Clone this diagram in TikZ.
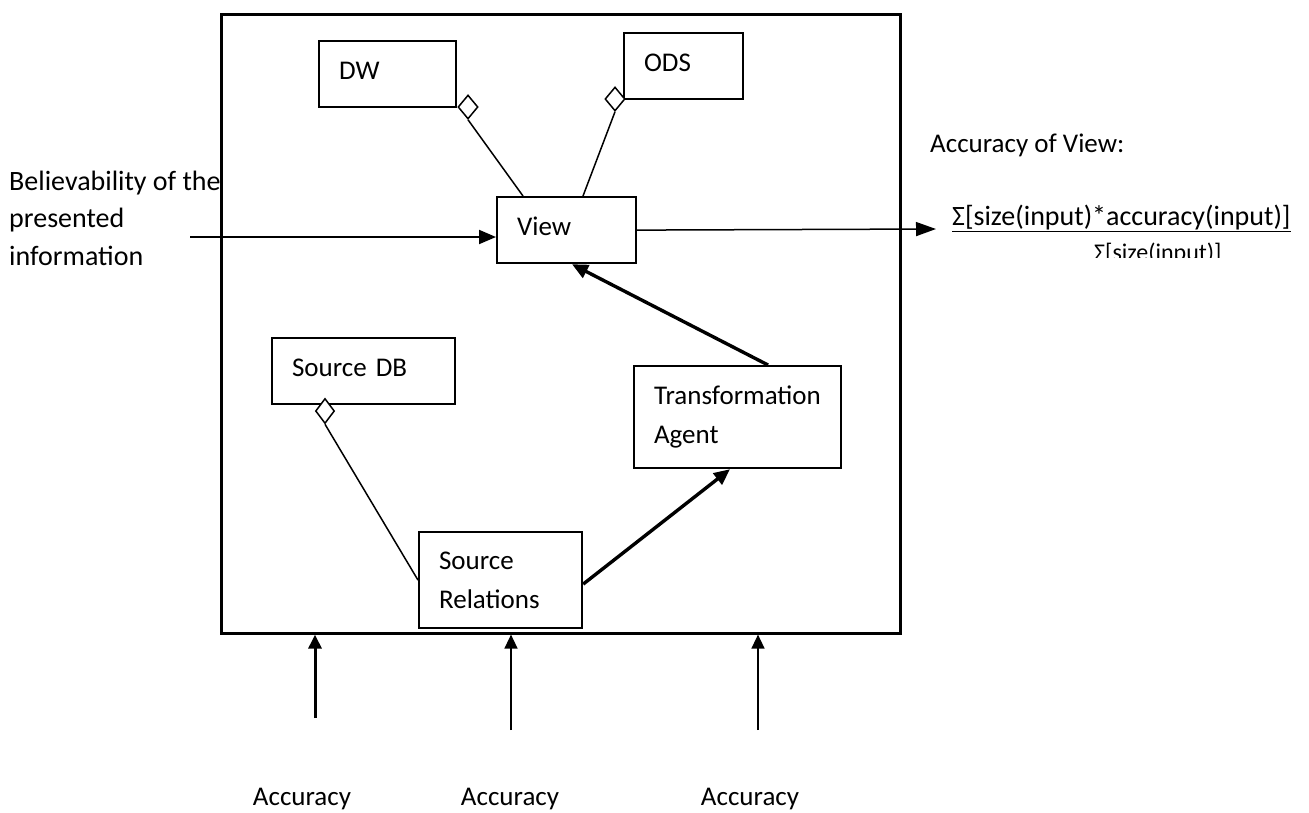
\documentclass[tikz,border=0pt]{standalone}
\usepackage{fontspec}
\setmainfont{Carlito}
\usetikzlibrary{arrows.meta,shapes.geometric}

\begin{document}
\begin{tikzpicture}[x=1pt,y=-1pt,
  lbl/.style={font=\fontsize{27}{37.5}\selectfont, inner sep=0pt},
  box/.style={draw, line width=2.2pt, anchor=north west, align=left,
    inner xsep=20pt, inner ysep=0pt, font=\fontsize{27}{39}\selectfont},
  onerow/.style={text depth=7pt},
  agg/.style={draw, diamond, fill=white, line width=1.5pt, inner sep=0pt},
  thinline/.style={line width=1.5pt},
  heavy/.style={line width=3.4pt, -{Triangle[length=16pt,width=14pt]}},
  flow/.style={line width=2pt, -{Triangle[length=17pt,width=14pt]}},
  feed/.style={-{Triangle[length=14pt,width=13pt]}},
]
\useasboundingbox (0,0) rectangle (1309,812);

% system boundary
\node[draw, line width=2.6pt, anchor=north west, minimum width=679pt,
  minimum height=619pt, inner sep=0pt] (sys) at (220,13) {};

% components
\node[box, onerow, text width=97pt,  minimum height=66pt]  (dw)   at (318,40)  {DW};
\node[box, onerow, text width=79pt,  minimum height=66pt]  (ods)  at (623,32)  {ODS};
\node[box, onerow, text width=99pt,  minimum height=66pt]  (view) at (496,196) {View};
\node[box, onerow, text width=143pt, minimum height=66pt]  (sdb)  at (271,337) {Source DB};
\node[box, text width=167pt, minimum height=102pt] (ta)   at (633,365) {Transformation\\Agent};
\node[box, text width=123pt, minimum height=96pt]  (sr)   at (418,531) {Source\\Relations};

% aggregation diamonds
\node[agg, minimum width=20pt, minimum height=24pt] (dwd)  at (468,107) {};
\node[agg, minimum width=20pt, minimum height=24pt] (odsd) at (615,99)  {};
\node[agg, minimum width=19pt, minimum height=25pt] (sdbd) at (325,411) {};

\draw[thinline] (dwd.south)  -- ([xshift=27pt]view.north west);
\draw[thinline] (odsd.south) -- ([xshift=87pt]view.north west);
\draw[thinline] (sdbd.south) -- (sr.west);

% data flow
\draw[heavy] ([xshift=135pt]ta.north west) -- ([xshift=76pt]view.south west);
\draw[heavy] ([yshift=-4pt]sr.east) -- ([xshift=97pt]ta.south west);

% input and output of the view
\coordinate (in) at (190,237);
\draw[flow] (in) -- (in -| view.west);
\coordinate (out) at (936,229);
\draw[thinline, -{Triangle[length=20pt,width=14pt]}] (view.east) -- (out);

\node[lbl, font=\fontsize{28}{37.5}\selectfont, anchor=west, align=left] (bel) at (9,218)
  {Believability of the\\presented\\information};

\node[lbl, anchor=base west] (accv) at (930,152) {Accuracy of View:};
\node[lbl, font=\fontsize{28}{34}\selectfont, anchor=base west] (num) at (952,225)
  {\underline{Σ[size(input)*accuracy(input)]}};
\begin{scope}
  \clip (1080,232) rectangle (1240,257);
  \node[lbl, font=\fontsize{24}{28}\selectfont, anchor=base west] (den) at (1094,260) {Σ[size(input)]};
\end{scope}

% accuracy inputs at the bottom
\coordinate (a1) at (315,718);
\coordinate (a2) at (511,730);
\coordinate (a3) at (758,730);
\draw[feed, line width=3pt]   (a1) -- (a1 |- sys.south);
\draw[feed, line width=1.5pt] (a2) -- (a2 |- sys.south);
\draw[feed, line width=1.5pt] (a3) -- (a3 |- sys.south);

\node[lbl, anchor=base] (acc1) at (302,805) {Accuracy};
\node[lbl, anchor=base] (acc2) at (510,805) {Accuracy};
\node[lbl, anchor=base] (acc3) at (750,805) {Accuracy};
\end{tikzpicture}
\end{document}
